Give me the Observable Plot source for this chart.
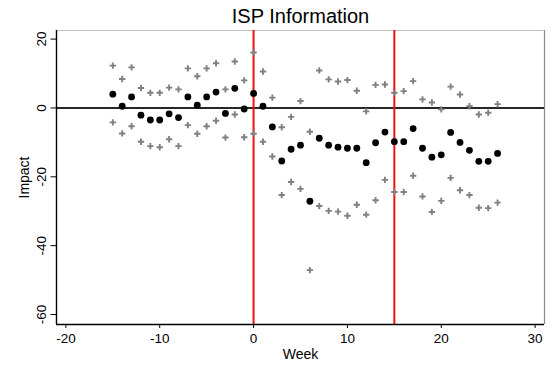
<!DOCTYPE html>
<html>
<head>
<meta charset="utf-8">
<script src="https://cdn.jsdelivr.net/npm/d3@7"></script>
<script src="https://cdn.jsdelivr.net/npm/@observablehq/plot@0.6"></script>
<style>
  html, body { margin: 0; padding: 0; background: #fff; }
</style>
</head>
<body>
<div id="chart"></div>
<script>
const weeks = [-15,-14,-13,-12,-11,-10,-9,-8,-7,-6,-5,-4,-3,-2,-1,0,1,2,3,4,5,6,7,8,9,10,11,12,13,14,15,16,17,18,19,20,21,22,23,24,25,26];
const estimate = [4.0,0.5,3.2,-2.1,-3.5,-3.5,-1.7,-2.8,3.2,0.8,3.2,4.6,-1.6,5.7,-0.3,4.2,0.5,-5.5,-15.4,-12.0,-10.8,-27.1,-8.8,-10.8,-11.4,-11.7,-11.7,-15.9,-10.1,-7.0,-9.8,-9.8,-6.0,-11.7,-14.3,-13.6,-7.1,-10.0,-12.3,-15.5,-15.5,-13.2];
const upper = [12.3,8.4,11.8,5.8,4.4,4.4,5.9,5.4,11.5,9.2,11.5,13.0,5.4,13.5,8.0,16.1,10.6,3.0,-5.6,-2.6,2.0,-6.9,10.9,8.3,7.7,8.1,5.0,-1.0,6.7,6.8,4.4,4.9,7.8,2.5,1.6,-0.4,6.2,3.9,0.5,-1.9,-1.4,1.1];
const lower = [-4.2,-7.4,-5.3,-9.8,-11.1,-11.4,-9.1,-11.1,-5.0,-7.5,-5.3,-3.7,-8.6,-1.9,-8.5,-7.5,-9.8,-14.1,-25.3,-21.5,-23.5,-47.1,-28.5,-29.9,-30.1,-31.3,-28.1,-31.0,-26.8,-20.9,-24.4,-24.4,-19.7,-25.7,-30.2,-27.0,-20.3,-23.9,-25.3,-29.0,-29.1,-27.5];
const eventWeeks = [0, 15];
const xTicks = [-20, -10, 0, 10, 20, 30];
const yTicks = [-60, -40, -20, 0, 20];
const title = "ISP Information";
const xLabel = "Week";
const yLabel = "Impact";

const xDomain = [-21, 31];
const yDomain = [-62.9, 22.5];

const est = weeks.map((w, i) => ({week: w, value: estimate[i]}));
const ci = weeks.flatMap((w, i) => [{week: w, value: upper[i]}, {week: w, value: lower[i]}]);

const chart = Plot.plot({
  width: 558,
  height: 365,
  marginTop: 30,
  marginBottom: 41,
  marginLeft: 56,
  marginRight: 14,
  style: {fontFamily: "'Liberation Sans', Arial, sans-serif", color: "#000", background: "#fff"},
  x: {domain: xDomain},
  y: {domain: yDomain},
  marks: [
    Plot.ruleY([yDomain[1]], {stroke: "#c4c4c4", strokeWidth: 1.2}),
    Plot.ruleX([xDomain[1]], {stroke: "#8a8a8a", strokeWidth: 1.2}),
    Plot.ruleY([0], {stroke: "#262626", strokeWidth: 2}),
    Plot.ruleX(eventWeeks, {stroke: "#f01010", strokeWidth: 2}),
    Plot.dot(ci, {x: "week", y: "value", symbol: "plus", r: 2.2, stroke: "#808080", strokeWidth: 1.9, fill: "none"}),
    Plot.dot(est, {x: "week", y: "value", r: 3.4, fill: "#000", stroke: null}),
    Plot.ruleX([xDomain[0]], {stroke: "#000", strokeWidth: 1.4}),
    Plot.ruleY([yDomain[0]], {stroke: "#000", strokeWidth: 1.4}),
    Plot.axisX({ticks: xTicks, tickSize: 4, tickPadding: 5, fontSize: 13.5, label: null, stroke: "#000", tickFormat: d => String(d)}),
    Plot.axisY({ticks: yTicks, tickSize: 5.5, tickPadding: 5.5, tickRotate: -90, fontSize: 13.5, label: null, stroke: "#000", textAnchor: "middle", lineAnchor: "bottom", tickFormat: d => String(d)}),
    Plot.text([yLabel], {text: d => d, frameAnchor: "left", dx: -28, rotate: -90, textAnchor: "middle", lineAnchor: "bottom", fontSize: 14, fill: "#000"}),
    Plot.text([xLabel], {text: d => d, frameAnchor: "bottom", dy: 34.3, textAnchor: "middle", lineAnchor: "bottom", fontSize: 14, fill: "#000"}),
    Plot.text([title], {text: d => d, frameAnchor: "top", dy: -8, textAnchor: "middle", lineAnchor: "bottom", fontSize: 20, fill: "#000"})
  ]
});
document.getElementById("chart").appendChild(chart);
</script>
</body>
</html>
